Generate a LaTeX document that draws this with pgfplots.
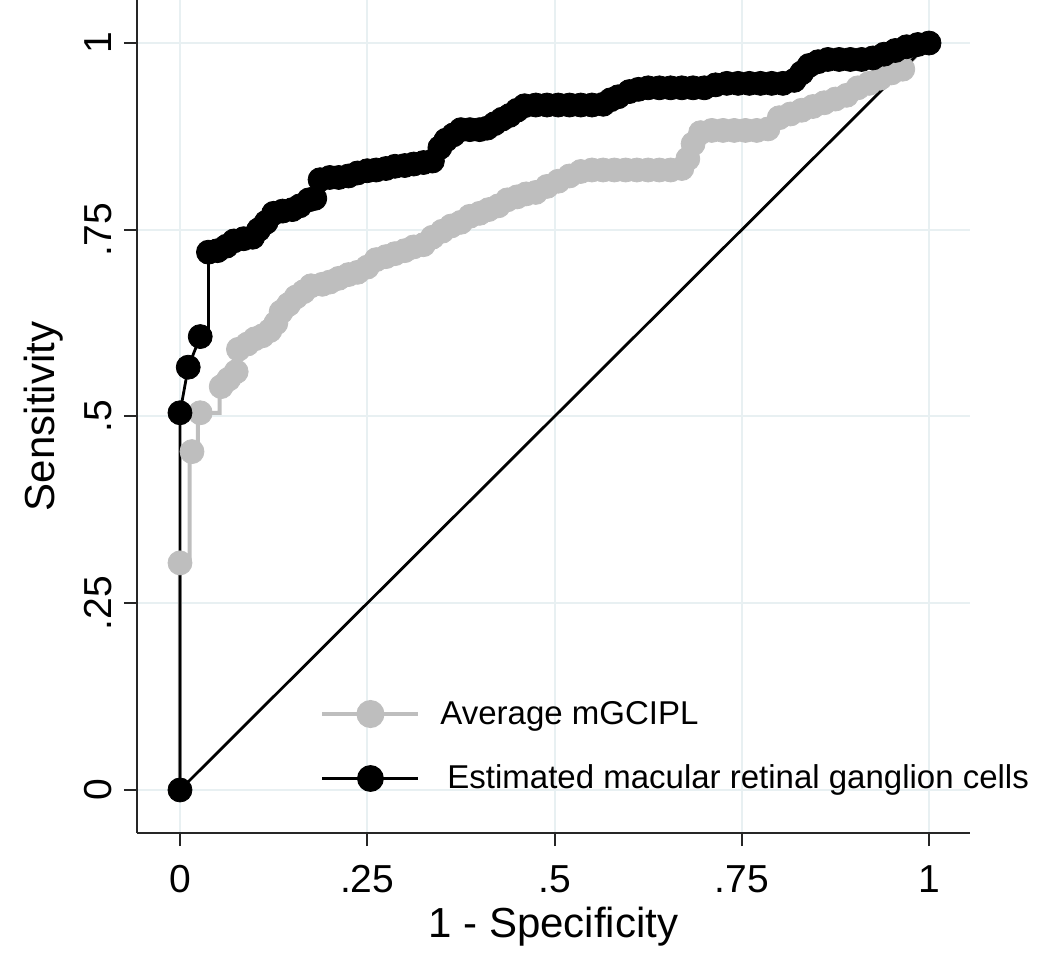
\documentclass[border=0pt]{standalone}
\usepackage{fontspec}
\setmainfont{Liberation Sans}
\usepackage{pgfplots}
\pgfplotsset{compat=1.18}
\definecolor{gridc}{RGB}{232,240,242}
\definecolor{lgray}{RGB}{190,190,190}
\begin{document}
\begin{tikzpicture}
\begin{axis}[
  scale only axis, width=416.5pt, height=416.5pt,
  xmin=-0.0574, xmax=1.0547, ymin=-0.0576, ymax=1.0576,
  axis x line=bottom, axis y line=left,
  axis line style={-, line width=1.1pt, color=black!85},
  xtick={0,0.25,0.5,0.75,1}, xticklabels={0,.25,.5,.75,1},
  ytick={0,0.25,0.5,0.75,1}, yticklabels={0,.25,.5,.75,1},
  tick align=outside, major tick length=6.5pt,
  tick style={line width=1pt, color=black!85},
  grid=major, major grid style={line width=1pt, color=gridc},
  /pgf/number format/assume math mode=true,
  xticklabel style={font=\fontsize{19.5}{19.5}\selectfont, anchor=base, yshift=-23pt},
  yticklabel style={font=\fontsize{19.5}{19.5}\selectfont, xshift=-6pt, rotate=90, anchor=base},
  every axis x label/.style={at={(rel axis cs:0.5,0)}, anchor=base, yshift=-52pt, font=\fontsize{21}{21}\selectfont},
  every axis y label/.style={at={(rel axis cs:0,0.5)}, xshift=-41pt, rotate=90, anchor=base, font=\fontsize{21}{21}\selectfont},
  xlabel={1 - Specificity}, ylabel={Sensitivity},
  legend style={draw=none, fill=none, at={(axis cs:0.187,0.125)}, anchor=north west,
    font=\fontsize{16.5}{16.5}\selectfont, row sep=15pt, inner sep=0pt},
  legend cell align=left,
]
% Average mGCIPL: connecting line (includes the corner points of the steps)
\addplot[color=lgray, line width=2pt,
  legend image code/.code={\draw[mark repeat=2,mark phase=2,mark=*,mark size=6pt,mark options={solid,fill=lgray,draw=lgray}] plot coordinates {(0pt,0pt)(24pt,0pt)(48pt,0pt)};\path[draw=none] (0pt,0pt) -- (57pt,0pt);}] coordinates {
(0,0) (0,0.304) (0.013,0.304) (0.013,0.453) (0.016,0.453) (0.024,0.453) (0.024,0.505) (0.027,0.505) (0.053,0.505) (0.053,0.535)
(0.055,0.54) (0.065,0.55) (0.075,0.56) (0.078,0.59) (0.09,0.597) (0.1,0.604) (0.11,0.608)
(0.12,0.615) (0.128,0.625) (0.135,0.64) (0.145,0.65) (0.155,0.66) (0.165,0.667) (0.175,0.675)
(0.19,0.677) (0.2,0.68) (0.212,0.685) (0.225,0.69) (0.237,0.693) (0.25,0.7) (0.262,0.71)
(0.275,0.714) (0.287,0.718) (0.3,0.722) (0.312,0.727) (0.325,0.73) (0.337,0.74) (0.35,0.748)
(0.362,0.755) (0.375,0.76) (0.387,0.768) (0.4,0.772) (0.412,0.777) (0.425,0.782) (0.437,0.79)
(0.45,0.794) (0.462,0.798) (0.475,0.8) (0.49,0.808) (0.505,0.815) (0.52,0.822) (0.535,0.828)
(0.55,0.83) (0.565,0.83) (0.58,0.83) (0.595,0.83) (0.61,0.83) (0.625,0.83) (0.64,0.83)
(0.655,0.83) (0.67,0.832) (0.678,0.845) (0.685,0.865) (0.695,0.88) (0.71,0.883) (0.725,0.883)
(0.74,0.883) (0.755,0.883) (0.77,0.883) (0.785,0.885) (0.8,0.9) (0.815,0.905) (0.83,0.91)
(0.845,0.915) (0.86,0.92) (0.875,0.925) (0.89,0.93) (0.905,0.94) (0.92,0.946) (0.935,0.953)
(0.95,0.96) (0.965,0.965) (1,1)
};
\addlegendentry{Average mGCIPL}
% Average mGCIPL: ROC points
\addplot[color=lgray, only marks, mark=*, mark size=6pt, mark options={solid, fill=lgray, draw=lgray}, forget plot] coordinates {
(0,0.304) (0.016,0.453) (0.027,0.505)
(0.055,0.54) (0.065,0.55) (0.075,0.56) (0.078,0.59) (0.09,0.597) (0.1,0.604) (0.11,0.608)
(0.12,0.615) (0.128,0.625) (0.135,0.64) (0.145,0.65) (0.155,0.66) (0.165,0.667) (0.175,0.675)
(0.19,0.677) (0.2,0.68) (0.212,0.685) (0.225,0.69) (0.237,0.693) (0.25,0.7) (0.262,0.71)
(0.275,0.714) (0.287,0.718) (0.3,0.722) (0.312,0.727) (0.325,0.73) (0.337,0.74) (0.35,0.748)
(0.362,0.755) (0.375,0.76) (0.387,0.768) (0.4,0.772) (0.412,0.777) (0.425,0.782) (0.437,0.79)
(0.45,0.794) (0.462,0.798) (0.475,0.8) (0.49,0.808) (0.505,0.815) (0.52,0.822) (0.535,0.828)
(0.55,0.83) (0.565,0.83) (0.58,0.83) (0.595,0.83) (0.61,0.83) (0.625,0.83) (0.64,0.83)
(0.655,0.83) (0.67,0.832) (0.678,0.845) (0.685,0.865) (0.695,0.88) (0.71,0.883) (0.725,0.883)
(0.74,0.883) (0.755,0.883) (0.77,0.883) (0.785,0.885) (0.8,0.9) (0.815,0.905) (0.83,0.91)
(0.845,0.915) (0.86,0.92) (0.875,0.925) (0.89,0.93) (0.905,0.94) (0.92,0.946) (0.935,0.953)
(0.95,0.96) (0.965,0.965)
};
% reference line
\addplot[black, line width=1.4pt, forget plot] coordinates {(0,0) (1,1)};
% Estimated macular RGC: connecting line
\addplot[color=black, line width=1.4pt,
  legend image code/.code={\draw[mark repeat=2,mark phase=2,mark=*,mark size=6pt,mark options={solid,fill=black}] plot coordinates {(0pt,0pt)(24pt,0pt)(48pt,0pt)};\path[draw=none] (0pt,0pt) -- (57pt,0pt);}] coordinates {
(0,0) (0,0.505) (0.011,0.566) (0.027,0.607) (0.038,0.607) (0.038,0.72) (0.05,0.722) (0.062,0.728)
(0.072,0.735) (0.085,0.738) (0.097,0.74) (0.105,0.75) (0.115,0.76) (0.125,0.772) (0.137,0.775)
(0.15,0.777) (0.16,0.782) (0.172,0.79) (0.18,0.792) (0.187,0.817) (0.2,0.82) (0.212,0.82)
(0.225,0.822) (0.237,0.826) (0.25,0.829) (0.262,0.83) (0.275,0.832) (0.287,0.835) (0.3,0.836)
(0.312,0.838) (0.325,0.84) (0.337,0.842) (0.347,0.86) (0.355,0.87) (0.365,0.877) (0.375,0.884)
(0.387,0.884) (0.4,0.884) (0.41,0.886) (0.42,0.892) (0.43,0.898) (0.44,0.903) (0.45,0.91)
(0.46,0.916) (0.475,0.917) (0.49,0.917) (0.505,0.917) (0.52,0.917) (0.535,0.917) (0.55,0.917)
(0.565,0.918) (0.575,0.924) (0.585,0.928) (0.6,0.935) (0.612,0.938) (0.625,0.94) (0.64,0.94)
(0.655,0.94) (0.67,0.94) (0.685,0.94) (0.7,0.94) (0.715,0.944) (0.73,0.946) (0.745,0.946)
(0.76,0.946) (0.775,0.946) (0.79,0.946) (0.805,0.946) (0.82,0.95) (0.83,0.96) (0.84,0.97)
(0.852,0.975) (0.865,0.978) (0.88,0.978) (0.895,0.978) (0.91,0.978) (0.925,0.98) (0.94,0.985)
(0.955,0.99) (0.97,0.995) (0.985,0.998) (1,1)
};
\addlegendentry{\hspace{3.5pt}Estimated macular retinal ganglion cells}
% Estimated macular RGC: ROC points
\addplot[color=black, only marks, mark=*, mark size=6pt, mark options={solid, fill=black}, forget plot] coordinates {
(0,0) (0,0.505) (0.011,0.566) (0.027,0.607) (0.038,0.72) (0.05,0.722) (0.062,0.728)
(0.072,0.735) (0.085,0.738) (0.097,0.74) (0.105,0.75) (0.115,0.76) (0.125,0.772) (0.137,0.775)
(0.15,0.777) (0.16,0.782) (0.172,0.79) (0.18,0.792) (0.187,0.817) (0.2,0.82) (0.212,0.82)
(0.225,0.822) (0.237,0.826) (0.25,0.829) (0.262,0.83) (0.275,0.832) (0.287,0.835) (0.3,0.836)
(0.312,0.838) (0.325,0.84) (0.337,0.842) (0.347,0.86) (0.355,0.87) (0.365,0.877) (0.375,0.884)
(0.387,0.884) (0.4,0.884) (0.41,0.886) (0.42,0.892) (0.43,0.898) (0.44,0.903) (0.45,0.91)
(0.46,0.916) (0.475,0.917) (0.49,0.917) (0.505,0.917) (0.52,0.917) (0.535,0.917) (0.55,0.917)
(0.565,0.918) (0.575,0.924) (0.585,0.928) (0.6,0.935) (0.612,0.938) (0.625,0.94) (0.64,0.94)
(0.655,0.94) (0.67,0.94) (0.685,0.94) (0.7,0.94) (0.715,0.944) (0.73,0.946) (0.745,0.946)
(0.76,0.946) (0.775,0.946) (0.79,0.946) (0.805,0.946) (0.82,0.95) (0.83,0.96) (0.84,0.97)
(0.852,0.975) (0.865,0.978) (0.88,0.978) (0.895,0.978) (0.91,0.978) (0.925,0.98) (0.94,0.985)
(0.955,0.99) (0.97,0.995) (0.985,0.998) (1,1)
};
\end{axis}
\pgfresetboundingbox
\path[use as bounding box] ([xshift=-68.5pt,yshift=-62.5pt]current axis.south west) rectangle ++(525pt,479pt);
\end{tikzpicture}
\end{document}
